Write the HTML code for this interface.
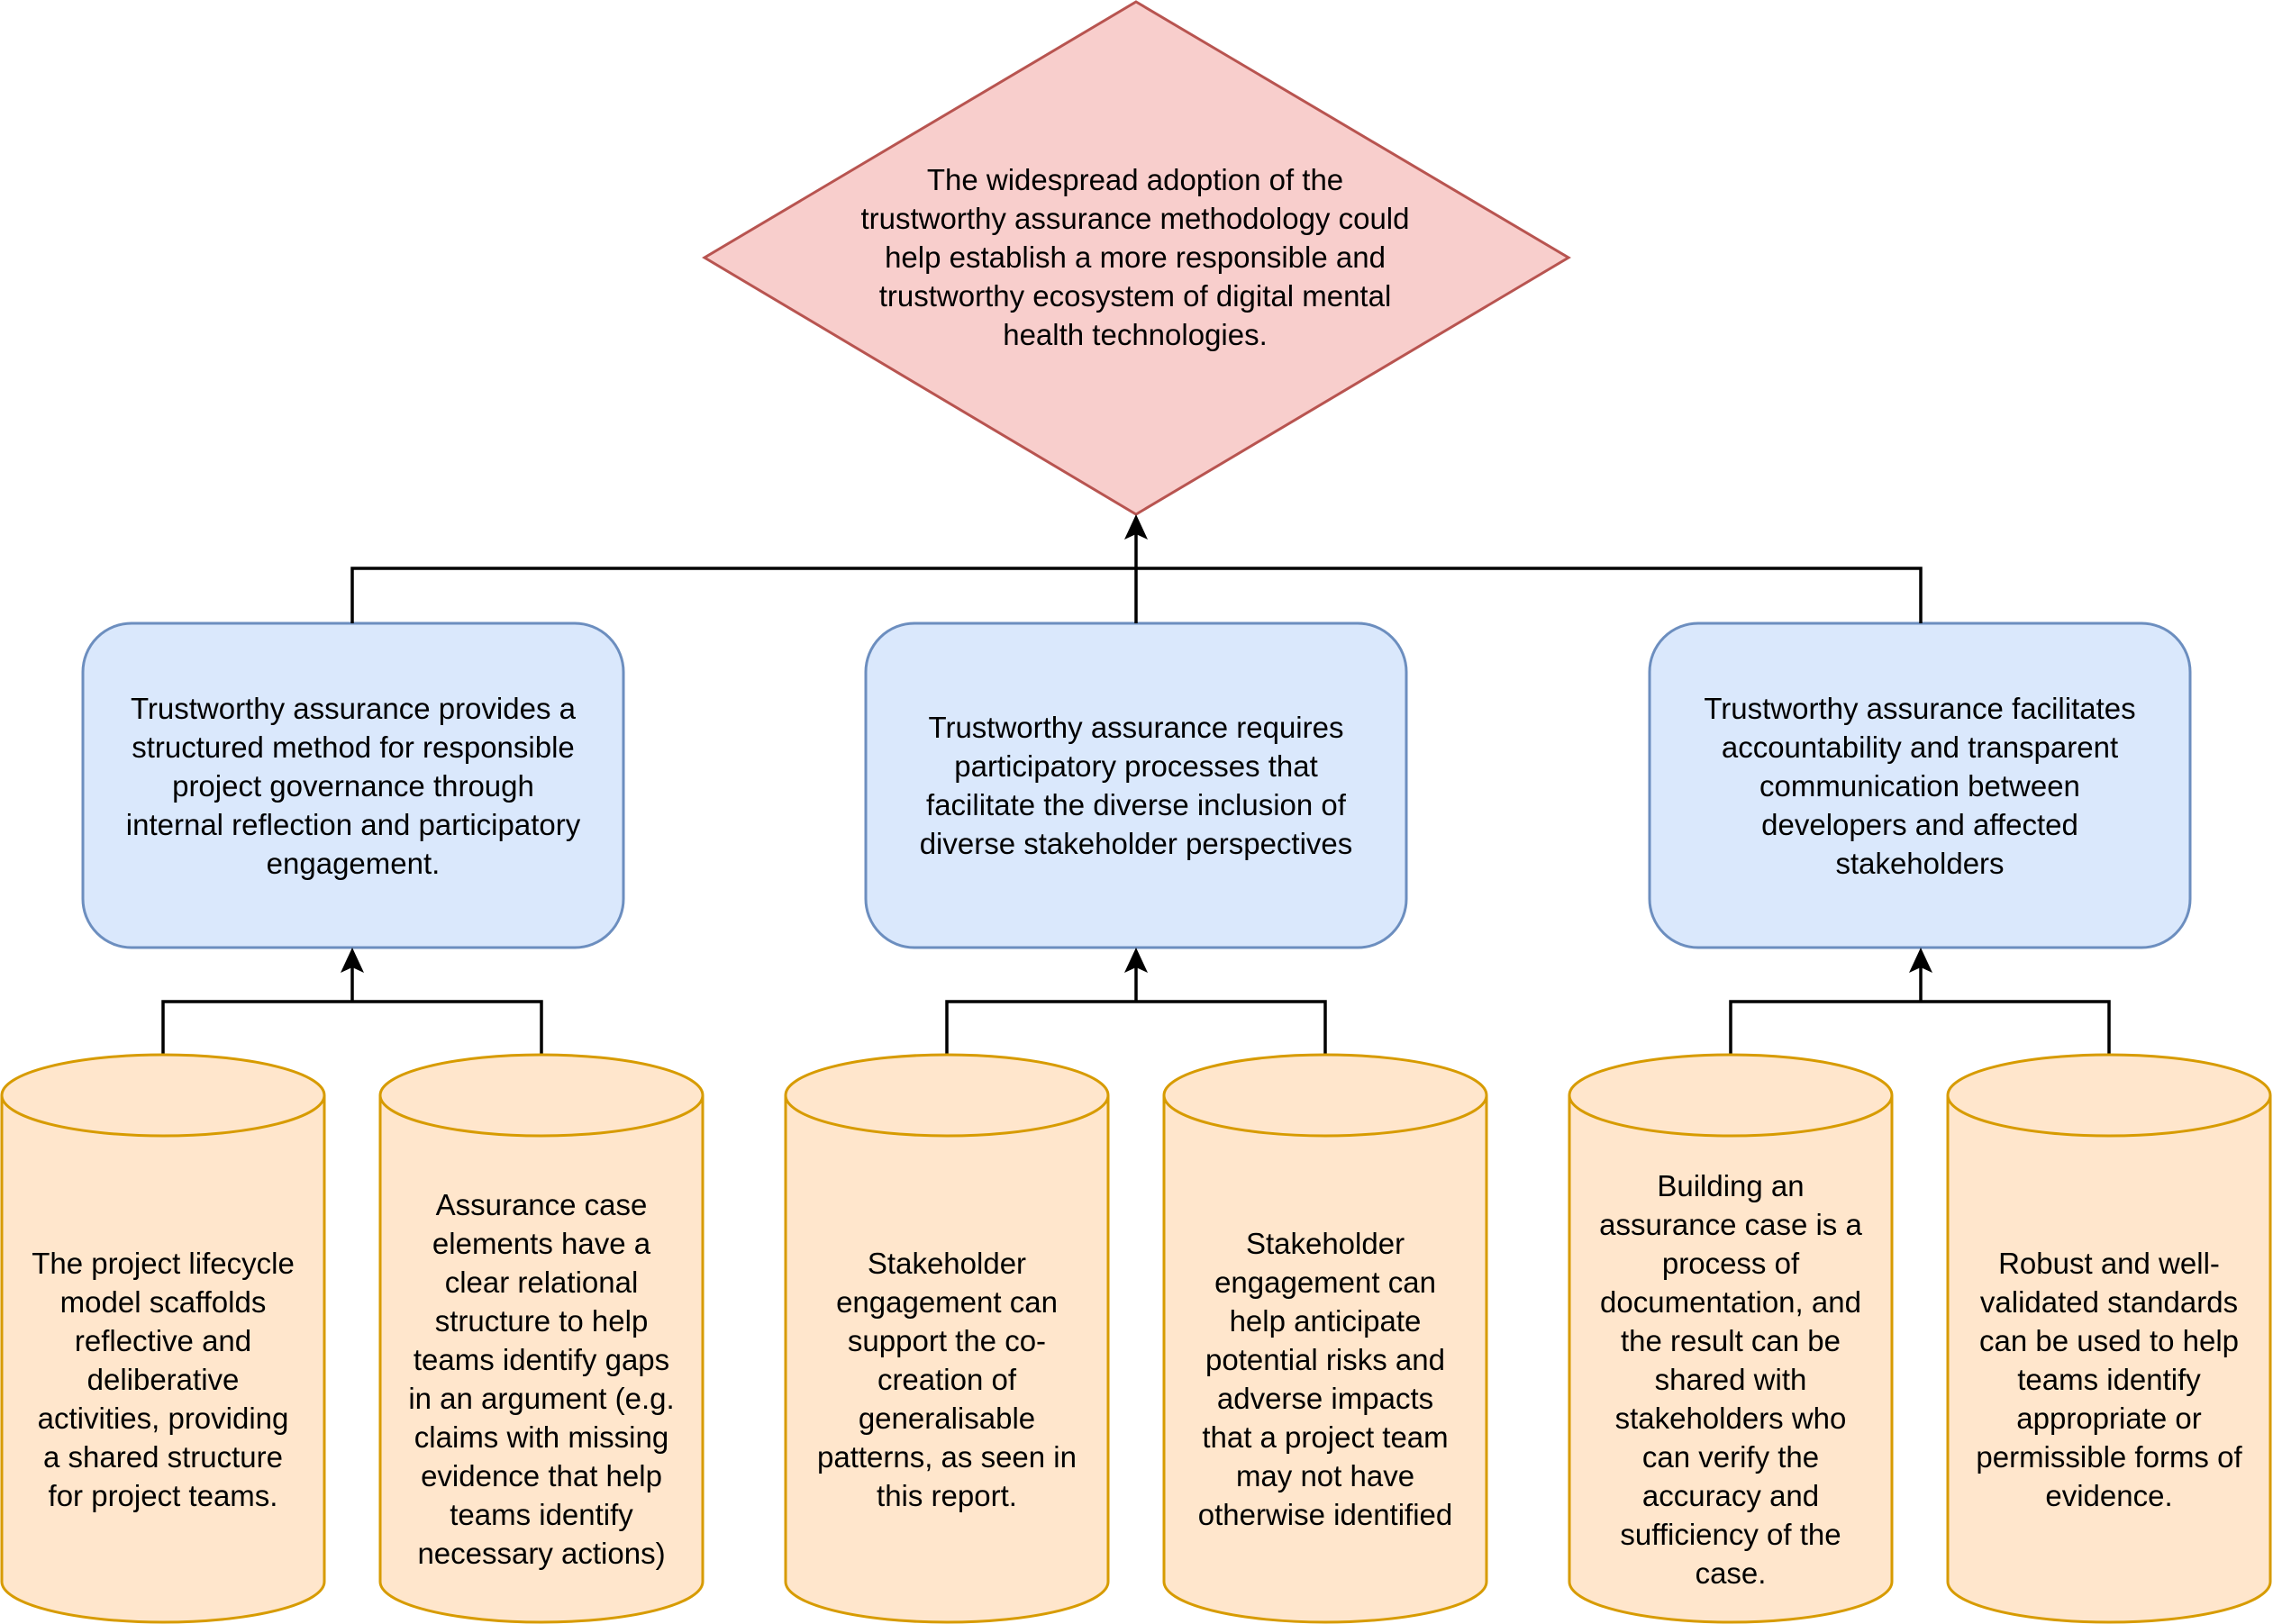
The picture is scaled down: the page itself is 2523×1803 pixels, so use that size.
<!DOCTYPE html>
<html><head><meta charset="utf-8"><style>
html,body{margin:0;padding:0;background:#fff;}
body{width:2523px;height:1803px;position:relative;overflow:hidden;font-family:"Liberation Sans",Helvetica,Arial,sans-serif;}
svg{position:absolute;left:0;top:0;}
.t{position:absolute;display:flex;align-items:center;justify-content:center;text-align:center;font-size:33px;line-height:43px;color:#000;}
</style></head><body>
<svg width="2523" height="1803" viewBox="0 0 2523 1803">
<defs>
<marker id="a" markerWidth="28" markerHeight="28" refX="14" refY="2" orient="0" markerUnits="userSpaceOnUse">
</marker>
</defs>
<polygon points="1261,2 1741,286 1261,571 782,286" fill="#f8cecc" stroke="#b85450" stroke-width="3"/>
<rect x="92" y="692" width="600" height="360" rx="54" fill="#dae8fc" stroke="#6c8ebf" stroke-width="3"/>
<rect x="961" y="692" width="600" height="360" rx="54" fill="#dae8fc" stroke="#6c8ebf" stroke-width="3"/>
<rect x="1831" y="692" width="600" height="360" rx="54" fill="#dae8fc" stroke="#6c8ebf" stroke-width="3"/>
<g fill="none" stroke="#000" stroke-width="3.5">
<path d="M391 692 V631 H2132 V692"/>
<path d="M1261 692 V590"/>
<path d="M181 1171 V1112 H601 V1171"/><path d="M391 1112 V1071"/>
<path d="M1051 1171 V1112 H1471 V1171"/><path d="M1261 1112 V1071"/>
<path d="M1921 1171 V1112 H2341 V1171"/><path d="M2132 1112 V1071"/>
</g>
<g fill="#000">
<path d="M1261 571 L1274 599 L1261 593 L1248 599 Z"/>
<path d="M391 1052 L404 1080 L391 1074 L378 1080 Z"/>
<path d="M1261 1052 L1274 1080 L1261 1074 L1248 1080 Z"/>
<path d="M2132 1052 L2145 1080 L2132 1074 L2119 1080 Z"/>
</g>
<g fill="#ffe6cc" stroke="#d79b00" stroke-width="3">
<g id="c"></g>
<path d="M2 1216 A179 45 0 0 1 360 1216 V1756 A179 45 0 0 1 2 1756 Z"/><path d="M2 1216 A179 45 0 0 0 360 1216" fill="none"/>
<path d="M422 1216 A179 45 0 0 1 780 1216 V1756 A179 45 0 0 1 422 1756 Z"/><path d="M422 1216 A179 45 0 0 0 780 1216" fill="none"/>
<path d="M872 1216 A179 45 0 0 1 1230 1216 V1756 A179 45 0 0 1 872 1756 Z"/><path d="M872 1216 A179 45 0 0 0 1230 1216" fill="none"/>
<path d="M1292 1216 A179 45 0 0 1 1650 1216 V1756 A179 45 0 0 1 1292 1756 Z"/><path d="M1292 1216 A179 45 0 0 0 1650 1216" fill="none"/>
<path d="M1742 1216 A179 45 0 0 1 2100 1216 V1756 A179 45 0 0 1 1742 1756 Z"/><path d="M1742 1216 A179 45 0 0 0 2100 1216" fill="none"/>
<path d="M2162 1216 A179 45 0 0 1 2520 1216 V1756 A179 45 0 0 1 2162 1756 Z"/><path d="M2162 1216 A179 45 0 0 0 2520 1216" fill="none"/>
</g>
</svg>
<div class="t" style="left:900px;top:150px;width:720px;height:270px;">The widespread adoption of the<br>trustworthy assurance methodology could<br>help establish a more responsible and<br>trustworthy ecosystem of digital mental<br>health technologies.</div>
<div class="t" style="left:92px;top:692px;width:600px;height:360px;">Trustworthy assurance provides a<br>structured method for responsible<br>project governance through<br>internal reflection and participatory<br>engagement.</div>
<div class="t" style="left:961px;top:692px;width:600px;height:360px;">Trustworthy assurance requires<br>participatory processes that<br>facilitate the diverse inclusion of<br>diverse stakeholder perspectives</div>
<div class="t" style="left:1831px;top:692px;width:600px;height:360px;">Trustworthy assurance facilitates<br>accountability and transparent<br>communication between<br>developers and affected<br>stakeholders</div>
<div class="t" style="left:2px;top:1261px;width:358px;height:540px;">The project lifecycle<br>model scaffolds<br>reflective and<br>deliberative<br>activities, providing<br>a shared structure<br>for project teams.</div>
<div class="t" style="left:422px;top:1261px;width:358px;height:540px;">Assurance case<br>elements have a<br>clear relational<br>structure to help<br>teams identify gaps<br>in an argument (e.g.<br>claims with missing<br>evidence that help<br>teams identify<br>necessary actions)</div>
<div class="t" style="left:872px;top:1261px;width:358px;height:540px;">Stakeholder<br>engagement can<br>support the co-<br>creation of<br>generalisable<br>patterns, as seen in<br>this report.</div>
<div class="t" style="left:1292px;top:1261px;width:358px;height:540px;">Stakeholder<br>engagement can<br>help anticipate<br>potential risks and<br>adverse impacts<br>that a project team<br>may not have<br>otherwise identified</div>
<div class="t" style="left:1742px;top:1261px;width:358px;height:540px;">Building an<br>assurance case is a<br>process of<br>documentation, and<br>the result can be<br>shared with<br>stakeholders who<br>can verify the<br>accuracy and<br>sufficiency of the<br>case.</div>
<div class="t" style="left:2162px;top:1261px;width:358px;height:540px;">Robust and well-<br>validated standards<br>can be used to help<br>teams identify<br>appropriate or<br>permissible forms of<br>evidence.</div>
</body></html>
